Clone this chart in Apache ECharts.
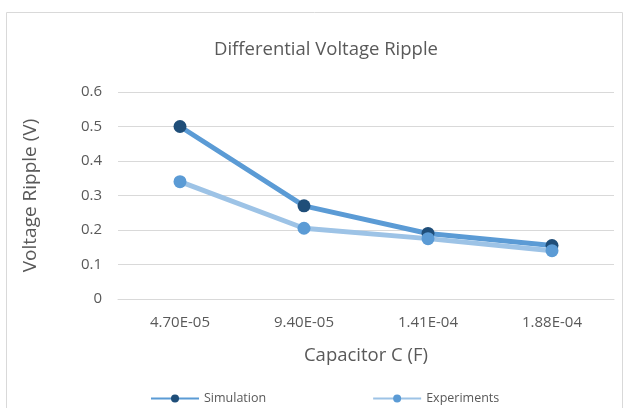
<!DOCTYPE html>
<html><head><meta charset="utf-8">
<script src="https://cdn.jsdelivr.net/npm/echarts@6/dist/echarts.min.js"></script>
<style>html,body{margin:0;padding:0;background:#fff}#c{width:629px;height:408px}</style>
</head><body><div id="c"></div>
<script>
const categories = ['4.70E-05','9.40E-05','1.41E-04','1.88E-04'];
const simulation = [0.5, 0.27, 0.19, 0.155];
const experiments = [0.34, 0.205, 0.175, 0.14];
const yTicks = [0, 0.1, 0.2, 0.3, 0.4, 0.5, 0.6];

const font = '"Open Sans", "Noto Sans", sans-serif';
const chart = echarts.init(document.getElementById('c'));
chart.setOption({
  animation: false,
  textStyle: {fontFamily: font},
  graphic: [{type:'rect', shape:{x:6.5,y:12.5,width:616,height:420}, style:{fill:'none', stroke:'#d9d9d9', lineWidth:1}}],
  title: {text:'Differential Voltage Ripple', left:209, top:35, textStyle:{fontFamily:font, fontSize:18.5, fontWeight:'normal', color:'#595959'}},
  grid: {left:118, right:15, top:92, bottom:109},
  xAxis: {type:'category', data:categories, boundaryGap:true,
    name:'Capacitor C (F)', nameLocation:'middle', nameGap:47,
    nameTextStyle:{fontFamily:font, fontSize:18.5, color:'#595959'},
    axisLine:{lineStyle:{color:'#d9d9d9', width:1}}, axisTick:{show:false},
    axisLabel:{color:'#595959', fontSize:15, margin:16, fontFamily:font}},
  yAxis: {type:'value', min:yTicks[0], max:yTicks[yTicks.length-1], interval:0.1,
    name:'Voltage Ripple (V)', nameLocation:'middle', nameGap:75, nameRotate:90,
    nameTextStyle:{fontFamily:font, fontSize:19, color:'#595959', padding:[0,0,3,0]},
    axisLine:{show:false}, axisTick:{show:false},
    splitLine:{lineStyle:{color:'#d9d9d9', width:1}},
    axisLabel:{color:'#595959', fontSize:15, margin:16, fontFamily:font, formatter: v => String(Math.round(v*10)/10)}},
  legend: {bottom:-2, left:145, itemGap:106, itemWidth:48, itemHeight:10,
    textStyle:{fontFamily:font, fontSize:12.5, color:'#595959'},
    data:['Simulation','Experiments']},
  series: [
    {name:'Simulation', type:'line', data:simulation, symbol:'circle', symbolSize:13,
     lineStyle:{color:'#5b9bd5', width:5}, itemStyle:{color:'#1f4e79'}, z:3},
    {name:'Experiments', type:'line', data:experiments, symbol:'circle', symbolSize:13,
     lineStyle:{color:'#9dc3e6', width:5}, itemStyle:{color:'#5b9bd5'}, z:4}
  ]
});
</script></body></html>
